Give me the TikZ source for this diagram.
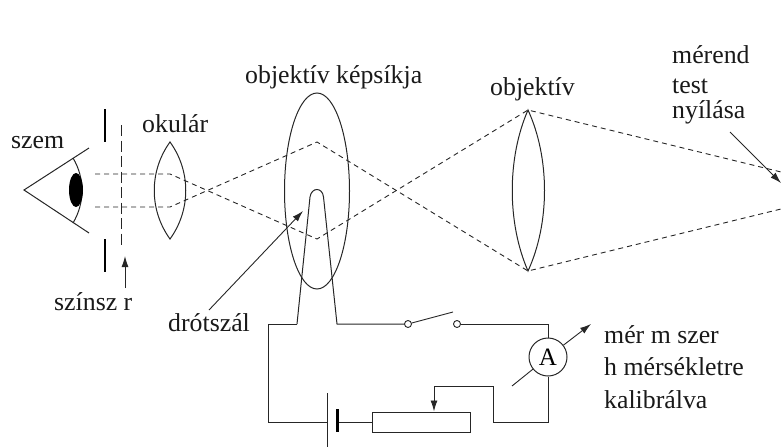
\documentclass[tikz,border=0pt]{standalone}
\usepackage{fontspec}
\setmainfont{Liberation Serif}
\usetikzlibrary{arrows.meta,shapes.geometric}
\tikzset{
  x=1pt,y=-1pt,
  wire/.style={draw=black!85,line width=1pt,line join=miter},
  ray/.style={draw=black!85,line width=0.9pt,dash pattern=on 5pt off 4pt},
  plate/.style={draw=black,line width=2pt},
  pointer/.style={draw=black!85,line width=0.9pt,-{Latex[length=11pt,width=7pt]}},
  lbl/.style={anchor=base west,inner sep=0pt,font=\fontsize{25.8}{28}\selectfont,text=black!90},
  terminal/.style={circle,draw=black!85,line width=0.9pt,fill=white,minimum size=7pt,inner sep=0pt},
  meter/.style={circle,draw=black!85,line width=1pt,fill=white,minimum size=38pt,inner sep=0pt,font=\fontsize{25}{25}\selectfont},
  resistor/.style={rectangle,draw=black!85,line width=1pt,fill=white,minimum width=98pt,minimum height=20pt,inner sep=0pt},
}
\begin{document}
\begin{tikzpicture}
\useasboundingbox (0,0) rectangle (781,447);
% coordinates
\coordinate (apex) at (24,190);
\coordinate (lidT) at (89,148);
\coordinate (lidB) at (89,233);
\coordinate (irisT) at (73,158);
\coordinate (irisB) at (73,223);
\coordinate (rayA0) at (95,174);
\coordinate (rayA1) at (170,174);
\coordinate (rayB0) at (95,207);
\coordinate (rayB1) at (170,207);
\coordinate (imgT) at (317,142);
\coordinate (imgB) at (317,239);
\coordinate (objT) at (528,110);
\coordinate (objB) at (528,271);
\coordinate (outT) at (781,172);
\coordinate (outB) at (781,209);
\coordinate (okT) at (170,142);
\coordinate (okB) at (170,239);
% eye
\draw[wire] (lidT) -- (apex) -- (lidB);
\draw[wire] (irisT) .. controls (85,178) and (85,203) .. (irisB);
\node[ellipse,fill=black,minimum width=14pt,minimum height=34pt,inner sep=0pt] (pupil) at (76,190) {};
% apertures and filter
\coordinate (s1a) at (105,109); \coordinate (s1b) at (105,142);
\coordinate (s2a) at (105,239); \coordinate (s2b) at (105,272);
\draw[plate] (s1a) -- (s1b);
\draw[plate] (s2a) -- (s2b);
\coordinate (fa) at (121.5,125); \coordinate (fb) at (121.5,245);
\draw[draw=black!85,line width=0.9pt,dash pattern=on 11pt off 4.5pt] (fa) -- (fb);
% rays
\draw[ray] (rayA0) -- (rayA1) -- (imgB) -- (objT) -- (outT);
\draw[ray] (rayB0) -- (rayB1) -- (imgT) -- (objB) -- (outB);
% lenses
\draw[wire] (okT) .. controls (149,171) and (149,210) .. (okB) .. controls (191,210) and (191,171) .. (okT) -- cycle;
\draw[wire] (objT) .. controls (507,158) and (507,223) .. (objB) .. controls (550,223) and (550,158) .. (objT) -- cycle;
% image plane
\node[ellipse,draw=black!85,line width=1pt,minimum width=65pt,minimum height=196pt,inner sep=0pt] (plane) at (317,191) {};
% circuit
\coordinate (w1) at (268,324);
\coordinate (w2) at (297,324);
\coordinate (w3) at (337,324);
\coordinate (w4) at (548,324);
\coordinate (w5) at (268,422);
\coordinate (batL) at (327,422);
\coordinate (batS) at (337,422);
\coordinate (w6) at (493,422);
\coordinate (w7) at (548,422);
\coordinate (w8) at (493,386);
\coordinate (w9) at (434,386);
\node[terminal] (sw1) at (408,324) {};
\node[terminal] (sw2) at (457,324) {};
\node[meter] (amp) at (548,357) {A};
\node[resistor] (res) at (421,422) {};
\draw[wire] (w2) -- (310,197) .. controls (311.5,187) and (322.5,187) .. (323.5,197) -- (w3) -- (sw1);
\draw[wire] (w2) -- (w1) -- (w5) -- (batL);
\draw[wire] (sw2) -- (w4) -- (amp);
\draw[wire] (amp) -- (w7) -- (w6) -- (w8) -- (w9);
\draw[pointer] (w9) -- (res.north -| w9);
\draw[wire] (batS) -- (res);
\coordinate (lev) at (453,312);
\draw[draw=black!85,line width=0.9pt] (sw1) -- (lev);
\coordinate (batLa) at (327,393); \coordinate (batLb) at (327,447);
\coordinate (batSa) at (337,409); \coordinate (batSb) at (337,432);
\draw[wire] (batLa) -- (batLb);
\draw[draw=black,line width=3pt] (batSa) -- (batSb);
% meter needle
\coordinate (needleA) at (512,386);
\coordinate (needleB) at (591,324);
\draw[draw=black!85,line width=0.9pt] (needleA) -- (amp);
\draw[pointer] (amp) -- (needleB);
% labels
\node[lbl] (szem) at (11,148) {szem};
\node[lbl] (okular) at (142,132) {okulár};
\node[lbl] (szinszr) at (54,310) {színsz r};
\node[lbl] (drot) at (168,331) {drótszál};
\node[lbl] (kepsik) at (245,83) {objektív képsíkja};
\node[lbl] (obj) at (490,95) {objektív};
\node[lbl] (merend) at (672,63) {mérend};
\node[lbl] (testl) at (672,93) {test};
\node[lbl] (nyilasa) at (672,118) {nyílása};
\node[lbl] (m1) at (604,343) {mér m szer};
\node[lbl] (m2) at (604,375) {h mérsékletre};
\node[lbl] (m3) at (604,408) {kalibrálva};
% pointers
\coordinate (p1a) at (125,288); \coordinate (p1b) at (125,256);
\draw[pointer] (p1a) -- (p1b);
\coordinate (p2a) at (209,310); \coordinate (p2b) at (303,211);
\draw[pointer] (p2a) -- (p2b);
\coordinate (p3a) at (730,132); \coordinate (p3b) at (781,183);
\draw[pointer] (p3a) -- (p3b);
\end{tikzpicture}
\end{document}
